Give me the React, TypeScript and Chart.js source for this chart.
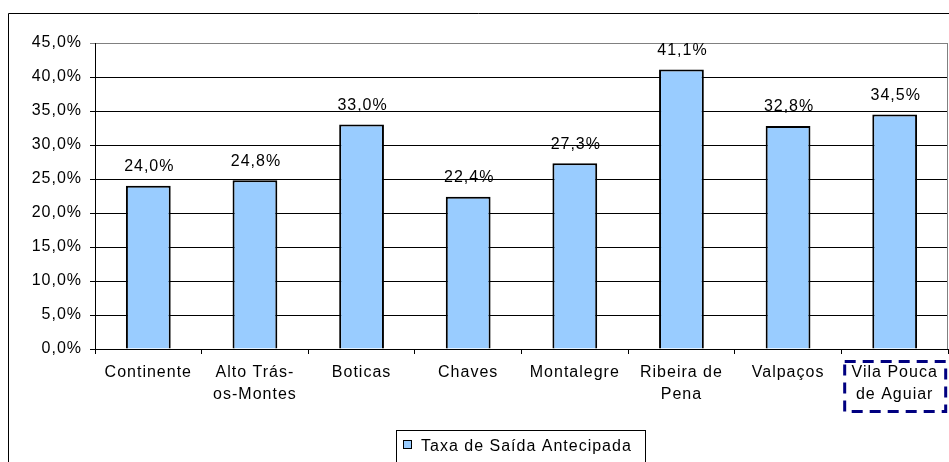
import React, { useEffect, useRef } from 'react';
import { Chart, registerables } from 'chart.js';

Chart.register(...registerables);

const categories: string[][] = [
  ['Continente'],
  ['Alto Trás-', 'os-Montes'],
  ['Boticas'],
  ['Chaves'],
  ['Montalegre'],
  ['Ribeira de', 'Pena'],
  ['Valpaços'],
  ['Vila Pouca', 'de Aguiar'],
];
const values: number[] = [24.0, 24.8, 33.0, 22.4, 27.3, 41.1, 32.8, 34.5];
const seriesLabel = 'Taxa de Saída Antecipada';
const yMin = 0;
const yMax = 45;
const yStep = 5;
const highlightIndex = 7;

const FONT = '"Liberation Sans", Arial, sans-serif';
const FONT_SIZE = 16;
const SPACING = '1px';
const BAR_FILL = '#99CCFF';

const fmt = (v: number) => v.toFixed(1).replace('.', ',') + '%';

const spacingPlugin = {
  id: 'spacing',
  beforeLayout(chart: any) {
    chart.ctx.letterSpacing = SPACING;
  },
  beforeDraw(chart: any) {
    chart.ctx.letterSpacing = SPACING;
  },
};

const decorPlugin = {
  id: 'decor',
  afterDraw(chart: any) {
    const ctx = chart.ctx as CanvasRenderingContext2D;
    const area = chart.chartArea;
    const xs = chart.scales.x;
    ctx.save();
    (ctx as any).letterSpacing = SPACING;

    // outer chart frame (cropped at right/bottom)
    ctx.strokeStyle = '#000';
    ctx.lineWidth = 1;
    ctx.beginPath();
    ctx.moveTo(8.5, chart.height);
    ctx.lineTo(8.5, 13.5);
    ctx.lineTo(chart.width, 13.5);
    ctx.stroke();

    // plot-area right border
    ctx.strokeStyle = '#808080';
    ctx.beginPath();
    ctx.moveTo(Math.round(area.right) - 0.5, area.top);
    ctx.lineTo(Math.round(area.right) - 0.5, area.bottom);
    ctx.stroke();

    // data labels
    const meta = chart.getDatasetMeta(0);
    ctx.fillStyle = '#000';
    ctx.font = `${FONT_SIZE}px ${FONT}`;
    ctx.textAlign = 'center';
    ctx.textBaseline = 'alphabetic';
    meta.data.forEach((bar: any, i: number) => {
      ctx.fillText(fmt(values[i]), bar.x + 1, bar.y - 14.5);
    });

    // dashed highlight box around last category label
    const cx = xs.getPixelForValue(highlightIndex);
    ctx.strokeStyle = '#000080';
    ctx.lineWidth = 3;
    ctx.setLineDash([11, 7]);
    ctx.strokeRect(cx - 50, 361.5, 101, 50);
    ctx.setLineDash([]);

    // legend
    const lx = 396.5;
    const ly = 430.5;
    ctx.lineWidth = 1;
    ctx.strokeStyle = '#000';
    ctx.fillStyle = '#fff';
    ctx.fillRect(lx, ly, 249, 40);
    ctx.strokeRect(lx, ly, 249, 40);
    ctx.fillStyle = BAR_FILL;
    ctx.fillRect(403.5, 440.5, 8, 8);
    ctx.strokeStyle = '#000';
    ctx.strokeRect(403.5, 440.5, 8, 8);
    ctx.fillStyle = '#000';
    ctx.textAlign = 'left';
    ctx.textBaseline = 'alphabetic';
    ctx.fillText(seriesLabel, 421, 450.5);

    ctx.restore();
  },
};

export default function App() {
  const ref = useRef<HTMLCanvasElement>(null);

  useEffect(() => {
    if (!ref.current) return;
    const chart = new Chart(ref.current, {
      type: 'bar',
      data: {
        labels: categories,
        datasets: [
          {
            label: seriesLabel,
            data: values,
            backgroundColor: BAR_FILL,
            borderColor: '#000',
            borderWidth: 2,
            categoryPercentage: 1,
            barPercentage: 0.42,
          },
        ],
      },
      options: {
        responsive: false,
        animation: false,
        devicePixelRatio: 1,
        layout: { padding: { top: 43, right: 1, left: 0, bottom: 0 } },
        plugins: {
          legend: { display: false },
          tooltip: { enabled: false },
        },
        scales: {
          x: {
            offset: true,
            afterFit(scale: any) {
              scale.height = 113;
            },
            grid: {
              display: true,
              offset: true,
              drawOnChartArea: false,
              drawTicks: true,
              tickLength: 5,
              color: '#000',
            },
            border: { display: true, color: '#000', width: 1 },
            ticks: {
              color: '#000',
              font: { family: FONT, size: FONT_SIZE, lineHeight: '22px' as any },
              padding: 8,
              maxRotation: 0,
              minRotation: 0,
              autoSkip: false,
            },
          },
          y: {
            min: yMin,
            max: yMax,
            afterFit(scale: any) {
              scale.width = 95;
            },
            grid: {
              display: true,
              drawTicks: true,
              tickLength: 5,
              color: (c: any) => (c.tick && c.tick.value === yMax ? '#808080' : '#000'),
            },
            border: { display: true, color: '#000', width: 1 },
            ticks: {
              stepSize: yStep,
              color: '#000',
              font: { family: FONT, size: FONT_SIZE },
              padding: 8,
              callback: (v: any) => fmt(Number(v)),
            },
          },
        },
      },
      plugins: [spacingPlugin, decorPlugin],
    });
    return () => chart.destroy();
  }, []);

  return (
    <div style={{ position: 'absolute', left: 0, top: 0, width: 949, height: 462, background: '#fff' }}>
      <canvas ref={ref} width={949} height={462} style={{ display: 'block' }} />
    </div>
  );
}
